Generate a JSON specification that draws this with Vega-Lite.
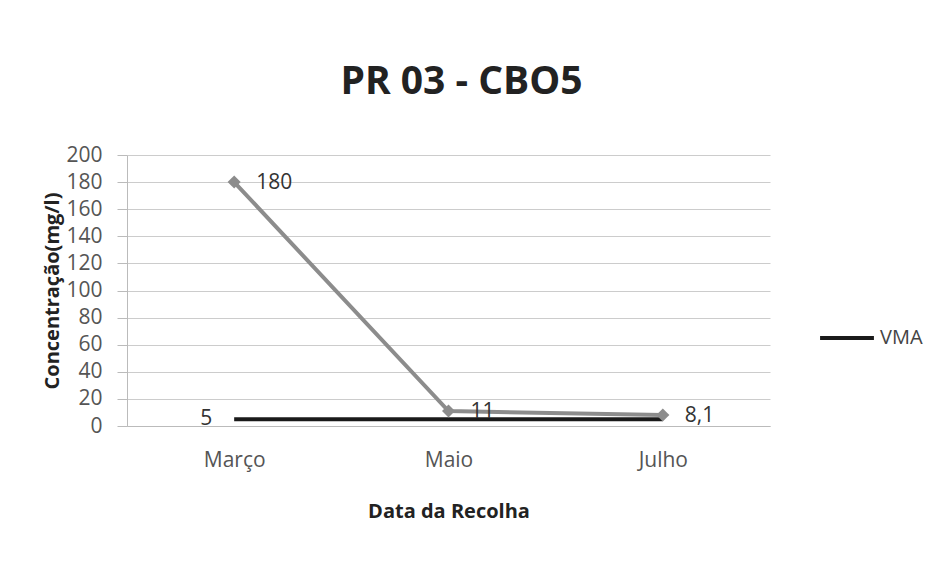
{
  "$schema": "https://vega.github.io/schema/vega-lite/v6.json",
  "width": 643,
  "height": 271,
  "autosize": "none",
  "padding": {"left": 127, "top": 155, "right": 170, "bottom": 142},
  "background": "white",
  "title": {"text": "PR 03 - CBO5", "fontSize": 39, "fontWeight": "bold", "font": "Open Sans", "color": "#222222", "anchor": "middle", "offset": 42, "dx": 13},
  "config": {
    "font": "Open Sans",
    "view": {"stroke": null},
    "axis": {"labelFont": "Open Sans", "titleFont": "Open Sans", "labelColor": "#555555", "titleColor": "#222222"}
  },
  "datasets": {
    "medicoes": [
      {"mes": "Março", "valor": 180, "rotulo": "180"},
      {"mes": "Maio", "valor": 11, "rotulo": "11"},
      {"mes": "Julho", "valor": 8.1, "rotulo": "8,1"}
    ],
    "vma": [
      {"mes": "Março", "valor": 5, "serie": "VMA", "rotulo": "5"},
      {"mes": "Maio", "valor": 5, "serie": "VMA", "rotulo": ""},
      {"mes": "Julho", "valor": 5, "serie": "VMA", "rotulo": ""}
    ]
  },
  "encoding": {
    "x": {
      "field": "mes", "type": "ordinal", "sort": ["Março", "Maio", "Julho"],
      "scale": {"type": "point", "padding": 0.5},
      "axis": {"title": "Data da Recolha", "titleFontSize": 20, "titleFontWeight": "bold", "titlePadding": 31, "labelAngle": 0, "labelFontSize": 21, "labelPadding": 23, "ticks": false, "domainColor": "#bbbbbb", "grid": false}
    },
    "y": {
      "field": "valor", "type": "quantitative",
      "scale": {"domain": [0, 200], "nice": false},
      "axis": {"title": "Concentração(mg/l)", "titleFontSize": 20, "titleFontWeight": "bold", "titlePadding": 3, "labelFontSize": 21, "labelPadding": 15, "values": [0, 20, 40, 60, 80, 100, 120, 140, 160, 180, 200], "ticks": true, "tickSize": 10, "tickColor": "#bbbbbb", "grid": true, "gridColor": "#cccccc", "domainColor": "#bbbbbb"}
    }
  },
  "layer": [
    {
      "data": {"name": "vma"},
      "mark": {"type": "line", "strokeWidth": 4},
      "encoding": {
        "color": {"field": "serie", "type": "nominal", "scale": {"domain": ["VMA"], "range": ["#1a1a1a"]},
          "legend": {"title": null, "orient": "none", "legendX": 691, "legendY": 154, "symbolType": "stroke", "symbolSize": 2900, "symbolStrokeWidth": 4, "labelFontSize": 20, "labelColor": "#444444", "labelOffset": 4}}
      }
    },
    {
      "data": {"name": "vma"},
      "mark": {"type": "text", "align": "right", "dx": -22, "fontSize": 21, "color": "#333333"},
      "encoding": {"text": {"field": "rotulo"}}
    },
    {
      "data": {"name": "medicoes"},
      "mark": {"type": "line", "color": "#8c8c8c", "strokeWidth": 4, "point": {"shape": "diamond", "size": 170, "color": "#8c8c8c", "filled": true}},
      "encoding": {}
    },
    {
      "data": {"name": "medicoes"},
      "mark": {"type": "text", "align": "left", "dx": 22, "dy": 1, "fontSize": 21, "color": "#333333"},
      "encoding": {"text": {"field": "rotulo"}}
    }
  ]
}
